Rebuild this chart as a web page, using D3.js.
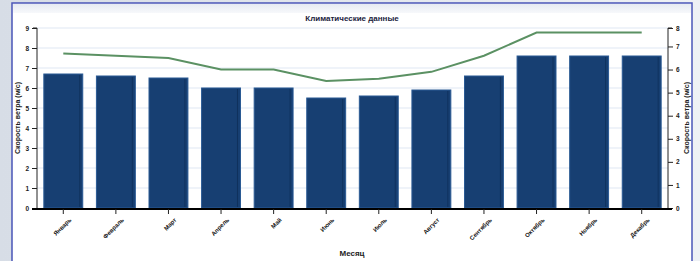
<!DOCTYPE html>
<html><head><meta charset="utf-8">
<script src="https://cdn.jsdelivr.net/npm/d3@7"></script>
<style>
html,body{margin:0;padding:0;background:#e9edf2;}
svg{display:block;}
</style></head>
<body>
<svg id="c" width="700" height="261"></svg>
<script>
const months = ["Январь","Февраль","Март","Апрель","Май","Июнь","Июль","Август","Сентябрь","Октябрь","Ноябрь","Декабрь"];
const barValues = [6.7,6.6,6.5,6.0,6.0,5.5,5.6,5.9,6.6,7.6,7.6,7.6];
const lineValues = [6.7,6.6,6.5,6.0,6.0,5.5,5.6,5.9,6.6,7.6,7.6,7.6];
const leftTicks = [0,1,2,3,4,5,6,7,8,9];
const rightTicks = [0,1,2,3,4,5,6,7,7.8];
const title = "Климатические данные";
const yTitle = "Скорость ветра (м/с)";
const xTitle = "Месяц";

const svg = d3.select("#c");
const defs = svg.append("defs");
const g1 = defs.append("linearGradient").attr("id","bg").attr("x1",0).attr("x2",1).attr("y1",0).attr("y2",0);
g1.append("stop").attr("offset","0%").attr("stop-color","#d7dde6");
g1.append("stop").attr("offset","100%").attr("stop-color","#eef1f5");
svg.append("rect").attr("width",700).attr("height",261).attr("fill","url(#bg)");
const g2 = defs.append("linearGradient").attr("id","top").attr("x1",0).attr("x2",0).attr("y1",0).attr("y2",1);
g2.append("stop").attr("offset","0%").attr("stop-color","#e6ebf2");
g2.append("stop").attr("offset","100%").attr("stop-color","#f7f8fb");
// panel
svg.append("rect").attr("x",12).attr("y",3).attr("width",680).attr("height",262).attr("fill","#ffffff").attr("stroke","#4a56b8").attr("stroke-width",1.5);
svg.append("rect").attr("x",13).attr("y",4).attr("width",678).attr("height",9).attr("fill","url(#top)");

const font = "'Liberation Sans', Arial, sans-serif";
const x = d3.scaleBand().domain(months).range([37,668]).paddingInner(0.26).paddingOuter(0.13);
const yL = d3.scaleLinear().domain([0,9]).range([208,28]);
const yR = d3.scaleLinear().domain([0,7.8]).range([208,28]);

// grid
svg.append("g").selectAll("line").data(leftTicks.filter(d=>d>0)).join("line")
  .attr("x1",37).attr("x2",668).attr("y1",d=>yL(d)).attr("y2",d=>yL(d))
  .attr("stroke","#dfe7f3").attr("stroke-width",1.2);

// bars
svg.append("g").selectAll("rect").data(barValues).join("rect")
  .attr("x",(d,i)=>x(months[i])).attr("width",x.bandwidth())
  .attr("y",d=>yL(d)).attr("height",d=>yL(0)-yL(d))
  .attr("fill","#173f72").attr("stroke","#2a5a94").attr("stroke-width",1);
svg.append("g").selectAll("line").data(barValues).join("line")
  .attr("x1",(d,i)=>x(months[i])+x.bandwidth()-3).attr("x2",(d,i)=>x(months[i])+x.bandwidth()-3)
  .attr("y1",d=>yL(d)+1).attr("y2",yL(0)-1)
  .attr("stroke","#10325e").attr("stroke-width",1);

// line
const line = d3.line().x((d,i)=>x(months[i])+x.bandwidth()/2).y(d=>yR(d));
svg.append("path").datum(lineValues).attr("d",line).attr("fill","none")
  .attr("stroke","#5b9163").attr("stroke-width",2);

// axes
const axL = svg.append("g").attr("transform","translate(37,0)")
  .call(d3.axisLeft(yL).tickValues(leftTicks).tickSize(5).tickPadding(3).tickFormat(d3.format("d")));
const axR = svg.append("g").attr("transform","translate(668,0)")
  .call(d3.axisRight(yR).tickValues(rightTicks).tickSize(5).tickPadding(3).tickFormat(d3.format(".0f")));
const axB = svg.append("g").attr("transform","translate(0,209)")
  .call(d3.axisBottom(x).tickSize(5).tickPadding(3).tickSizeOuter(0));
[axL,axR,axB].forEach(a=>{
  a.selectAll("text").attr("font-family",font).attr("font-size",6.5).attr("font-weight","bold").attr("fill","#222");
  a.selectAll("line").attr("stroke","#222");
  a.select(".domain").attr("stroke","#222");
});
axL.select(".domain").attr("d","M-4,28H0V208");
axR.select(".domain").attr("d","M4,28H0V208");
axB.select(".domain").attr("d","M32,0H672").attr("stroke","#000").attr("stroke-width",2);
axB.selectAll("text").attr("text-anchor","end").attr("dx","-2").attr("dy","6")
  .attr("transform","rotate(-45)").attr("font-size",6).attr("fill","#111");

// titles
svg.append("text").attr("x",352).attr("y",21).attr("text-anchor","middle")
  .attr("font-family",font).attr("font-size",8).attr("font-weight","bold").attr("fill","#1b1d3d").text(title);
svg.append("text").attr("transform","translate(20,118) rotate(-90)").attr("text-anchor","middle")
  .attr("font-family",font).attr("font-size",7).attr("font-weight","bold").attr("fill","#222").text(yTitle);
svg.append("text").attr("transform","translate(689,118) rotate(-90)").attr("text-anchor","middle")
  .attr("font-family",font).attr("font-size",7).attr("font-weight","bold").attr("fill","#222").text(yTitle);
svg.append("text").attr("x",352).attr("y",256).attr("text-anchor","middle")
  .attr("font-family",font).attr("font-size",8).attr("font-weight","bold").attr("fill","#222").text(xTitle);
</script>
</body></html>
